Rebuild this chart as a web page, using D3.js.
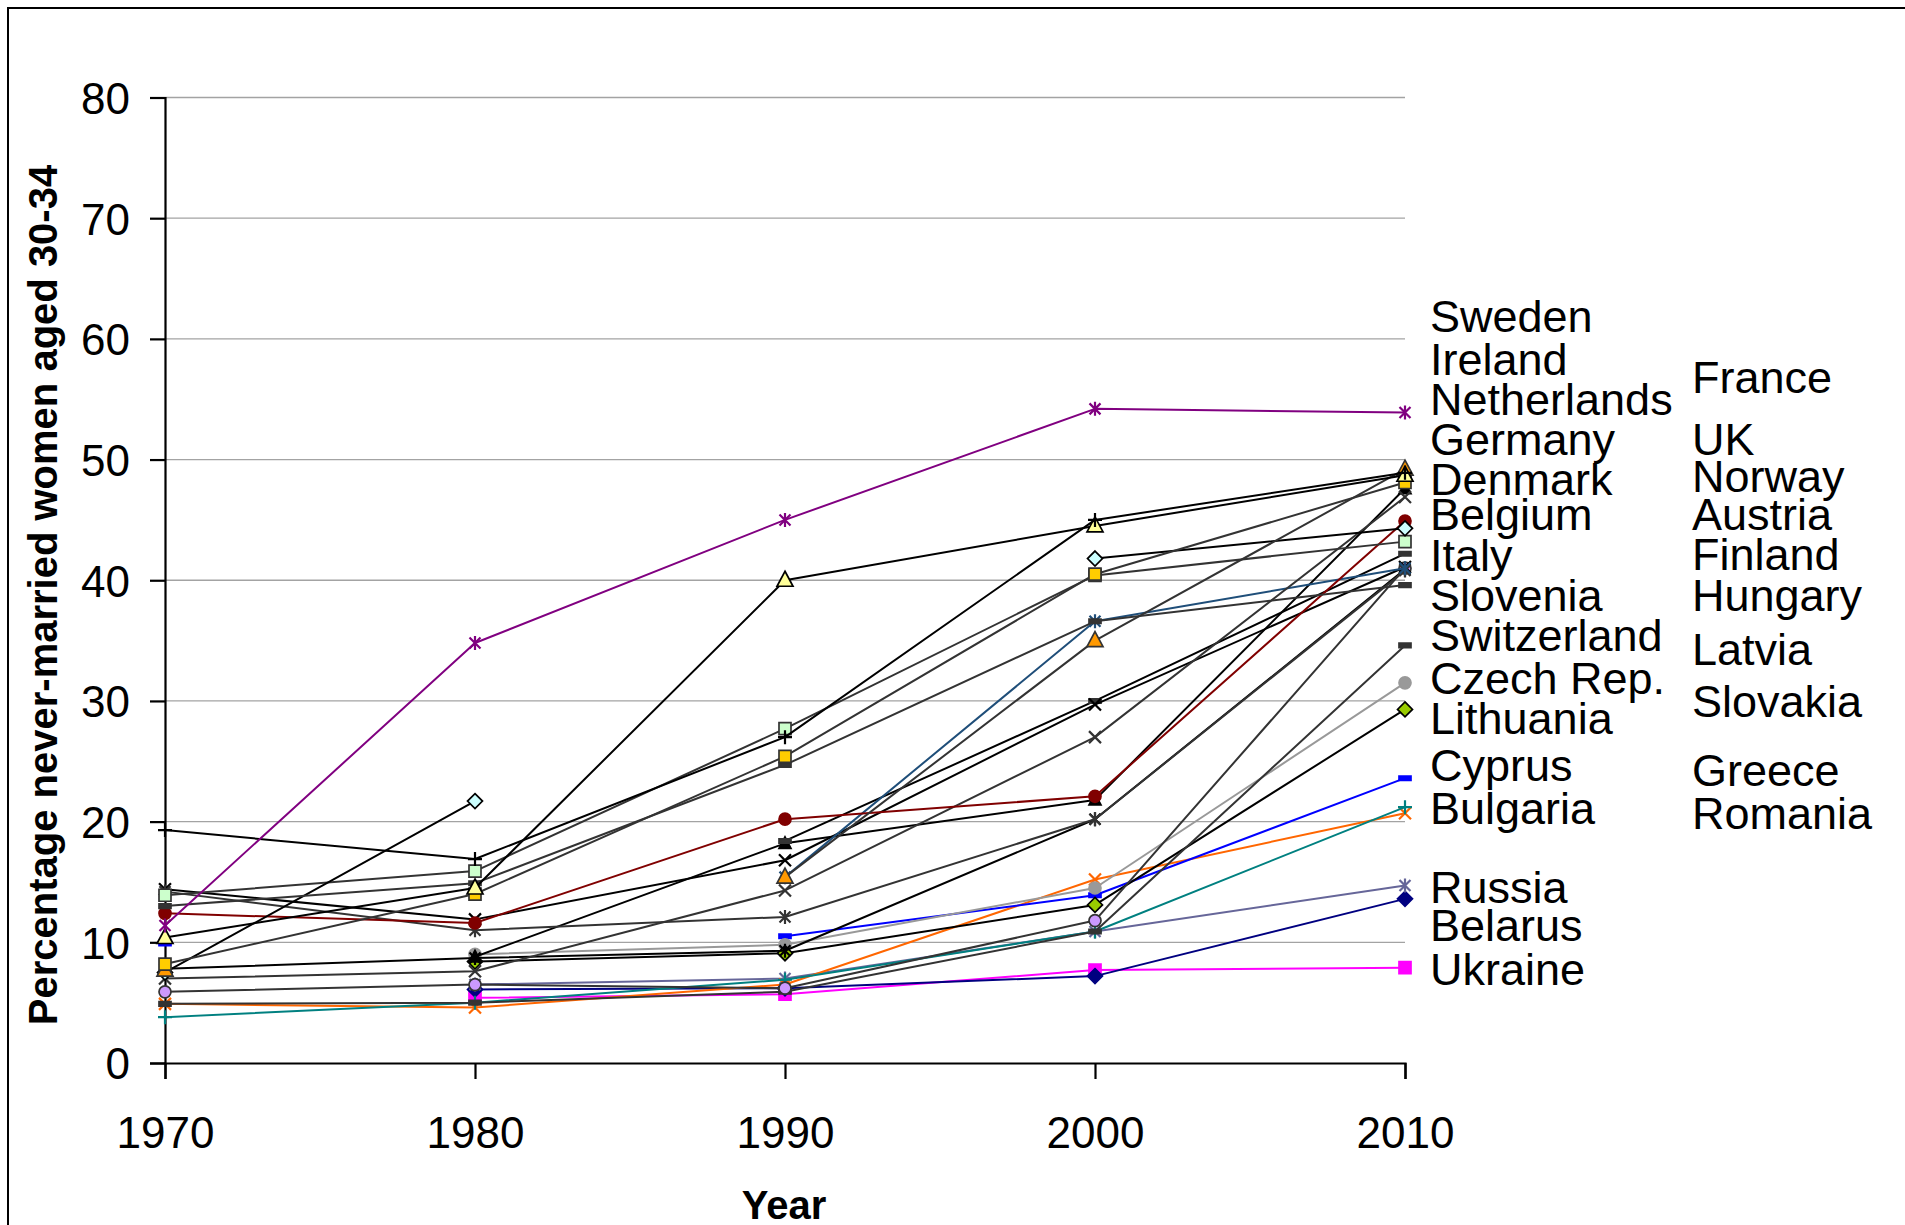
<!DOCTYPE html>
<html><head><meta charset="utf-8">
<script src="https://cdn.jsdelivr.net/npm/d3@7"></script>
<style>
html,body{margin:0;padding:0;background:#fff;overflow:hidden}
svg{display:block}
text{font-family:"Liberation Sans",Arial,Helvetica,sans-serif}
</style></head><body>
<svg id="chart" width="1905" height="1225"></svg>
<script>
// ---------- data ----------
const years = [1970, 1980, 1990, 2000, 2010];
const yTicks = [0, 10, 20, 30, 40, 50, 60, 70, 80];

const ukraine     = [null, 5.4, 5.7, 7.7, 7.9];
const belarus     = [null, 6.1, 6.2, 7.2, 13.6];
const russia      = [null, 6.5, 7.0, 10.9, 14.7];
const romania     = [4.9, 4.6, 6.5, 15.2, 20.7];
const bulgaria    = [3.8, 5.0, 6.9, 10.9, 21.2];
const greece      = [9.9, null, 10.5, 13.9, 23.6];
const cyprus      = [null, 9.0, 9.8, 14.5, 31.5];
const lithuania   = [null, 8.4, 9.1, 13.1, 29.3];
const slovakia    = [4.9, 5.0, 5.9, 10.9, 34.6];
const czech       = [7.8, 8.7, 9.3, 20.2, 40.9];
const slovenia    = [5.9, 6.5, 6.2, 11.8, 41.0];
const latvia      = [null, 8.8, 18.2, 21.8, 47.6];
const hungary     = [null, null, 18.4, 30.0, 42.2];
const switzerland = [14.4, 11.9, 16.8, 29.7, 41.1];
const italy       = [14.2, 11.0, 12.1, 20.2, 40.8];
const finland     = [null, null, 15.4, 36.6, 41.0];
const austria     = [7.0, 7.6, 14.3, 27.0, 46.9];
const belgium     = [12.4, 11.6, 20.2, 22.1, 44.9];
const norway      = [13.9, 15.9, 27.7, 40.4, 43.2];
const denmark     = [7.5, 21.7, null, 41.8, 44.3];
const uk          = [13.0, 14.9, 24.7, 36.6, 39.6];
const germany     = [7.7, null, 15.4, 35.0, 49.2];
const france      = [8.2, 14.0, 25.4, 40.5, 48.1];
const netherlands = [10.4, 14.5, 40.0, 44.5, 48.7];
const ireland     = [19.3, 16.9, 27.0, 45.0, 48.9];
const sweden      = [11.4, 34.8, 45.0, 54.2, 53.9];

// label names and the level (in %) where each sits
const labelsLeft  = ["Sweden","Ireland","Netherlands","Germany","Denmark","Belgium","Italy","Slovenia","Switzerland","Czech Rep.","Lithuania","Cyprus","Bulgaria","Russia","Belarus","Ukraine"];
const labelsLeftAt  = [61.9, 58.3, 55.0, 51.7, 48.4, 45.5, 42.1, 38.8, 35.5, 31.9, 28.6, 24.7, 21.1, 14.6, 11.4, 7.8];
const labelsRight = ["France","UK","Norway","Austria","Finland","Hungary","Latvia","Slovakia","Greece","Romania"];
const labelsRightAt = [56.8, 51.7, 48.6, 45.5, 42.2, 38.8, 34.3, 30.0, 24.3, 20.7];

// ---------- styles ----------
const series = [
  {name:"Ukraine",     v:ukraine,     line:"#FF00FF", mk:"square",   fill:"#FF00FF", ms:"#FF00FF"},
  {name:"Belarus",     v:belarus,     line:"#000080", mk:"diamond",  fill:"#000080", ms:"#000080"},
  {name:"Russia",      v:russia,      line:"#666699", mk:"asterisk", fill:"none",    ms:"#666699"},
  {name:"Romania",     v:romania,     line:"#FF6600", mk:"x",        fill:"none",    ms:"#FF6600"},
  {name:"Bulgaria",    v:bulgaria,    line:"#008080", mk:"plus",     fill:"none",    ms:"#008080"},
  {name:"Greece",      v:greece,      line:"#0000FF", mk:"dash",     fill:"#0000FF", ms:"#0000FF"},
  {name:"Cyprus",      v:cyprus,      line:"#999999", mk:"circle",   fill:"#999999", ms:"#999999"},
  {name:"Lithuania",   v:lithuania,   line:"#000000", mk:"diamond",  fill:"#99CC00", ms:"#000000"},
  {name:"Slovakia",    v:slovakia,    line:"#333333", mk:"dash",     fill:"#333333", ms:"#333333"},
  {name:"Czech Rep.",  v:czech,       line:"#000000", mk:"asterisk", fill:"none",    ms:"#000000"},
  {name:"Slovenia",    v:slovenia,    line:"#333333", mk:"circle",   fill:"#CC99FF", ms:"#333333"},
  {name:"Latvia",      v:latvia,      line:"#000000", mk:"triangle", fill:"#000000", ms:"#000000", small:true},
  {name:"Hungary",     v:hungary,     line:"#000000", mk:"dash",     fill:"#333333", ms:"#333333"},
  {name:"Switzerland", v:switzerland, line:"#000000", mk:"x",        fill:"none",    ms:"#000000"},
  {name:"Italy",       v:italy,       line:"#333333", mk:"asterisk", fill:"none",    ms:"#333333"},
  {name:"Finland",     v:finland,     line:"#1F4E79", mk:"asterisk", fill:"none",    ms:"#1F4E79"},
  {name:"Austria",     v:austria,     line:"#333333", mk:"x",        fill:"none",    ms:"#333333"},
  {name:"Belgium",     v:belgium,     line:"#800000", mk:"circle",   fill:"#800000", ms:"#800000"},
  {name:"Norway",      v:norway,      line:"#333333", mk:"square",   fill:"#CCFFCC", ms:"#333333"},
  {name:"Denmark",     v:denmark,     line:"#000000", mk:"diamond",  fill:"#CCFFFF", ms:"#000000"},
  {name:"UK",          v:uk,          line:"#333333", mk:"dash",     fill:"#333333", ms:"#333333"},
  {name:"Germany",     v:germany,     line:"#333333", mk:"triangle", fill:"#FF9900", ms:"#333333"},
  {name:"France",      v:france,      line:"#333333", mk:"square",   fill:"#FFCC00", ms:"#333333"},
  {name:"Netherlands", v:netherlands, line:"#000000", mk:"triangle", fill:"#FFFF99", ms:"#000000"},
  {name:"Ireland",     v:ireland,     line:"#000000", mk:"plus",     fill:"none",    ms:"#000000"},
  {name:"Sweden",      v:sweden,      line:"#800080", mk:"asterisk", fill:"none",    ms:"#800080"}
];

// ---------- drawing ----------
const svg = d3.select("#chart");
const FONT = '"Liberation Sans",Arial,Helvetica,sans-serif';

// outer frame
svg.append("rect").attr("x",8).attr("y",8).attr("width",1920).attr("height",1240)
  .attr("fill","none").attr("stroke","#000").attr("stroke-width",2);

const x = d3.scaleLinear().domain([1970, 2010]).range([165, 1405]);
const y = d3.scaleLinear().domain([0, 80]).range([1063, 97.5]);

// gridlines
svg.append("g").selectAll("line").data(yTicks.filter(t => t > 0)).join("line")
  .attr("x1", x(1970)).attr("x2", x(2010))
  .attr("y1", d => y(d)).attr("y2", d => y(d))
  .attr("stroke", "#a3a3a3").attr("stroke-width", 1.3);

// y axis
const yAxis = d3.axisLeft(y).tickValues(yTicks).tickSize(15).tickPadding(20).tickFormat(d3.format("d"));
const gy = svg.append("g").attr("transform", `translate(${x(1970)},0)`).call(yAxis);
gy.select(".domain").attr("stroke","#000").attr("stroke-width",2.2);
gy.selectAll(".tick line").attr("stroke","#000").attr("stroke-width",2.2);
gy.selectAll(".tick text").attr("font-family",FONT).attr("font-size",44).attr("fill","#000").attr("dy","0.36em");

// x axis
const xAxis = d3.axisBottom(x).tickValues(years).tickSize(16).tickPadding(38).tickFormat(d3.format("d"));
const gx = svg.append("g").attr("transform", `translate(0,${y(0)})`).call(xAxis);
gx.select(".domain").attr("stroke","#000").attr("stroke-width",2.2);
gx.selectAll(".tick line").attr("stroke","#000").attr("stroke-width",2.2);
gx.selectAll(".tick text").attr("font-family",FONT).attr("font-size",44).attr("fill","#000").attr("dy","0.71em");

// axis titles
svg.append("text").attr("transform","translate(57,595) rotate(-90)")
  .attr("text-anchor","middle").attr("font-family",FONT).attr("font-weight","bold")
  .attr("font-size",40).text("Percentage never-married women aged 30-34");
svg.append("text").attr("x",784).attr("y",1219)
  .attr("text-anchor","middle").attr("font-family",FONT).attr("font-weight","bold")
  .attr("font-size",40).text("Year");

// marker paths
function markerPath(type, small) {
  switch (type) {
    case "square":   return "M-6,-6H6V6H-6Z";
    case "diamond":  return "M0,-7.5L7.5,0L0,7.5L-7.5,0Z";
    case "triangle": return small ? "M0,-6.5L6,5L-6,5Z" : "M0,-9L8,6L-8,6Z";
    case "circle":   return "M6,0A6,6 0 1,1 -6,0A6,6 0 1,1 6,0Z";
    case "x":        return "M-6,-6L6,6M-6,6L6,-6";
    case "plus":     return "M-7,0H7M0,-7V7";
    case "asterisk": return "M-5.5,-5.5L5.5,5.5M-5.5,5.5L5.5,-5.5M0,-7V7";
    case "dash":     return "M-6,-2.2H6V2.2H-6Z";
  }
}

const lineGen = d3.line()
  .defined(d => d.v !== null)
  .x(d => x(d.year)).y(d => y(d.v));

const plot = svg.append("g");
series.forEach(s => {
  const pts = years.map((yr, i) => ({year: yr, v: s.v[i]}));
  const g = plot.append("g");
  g.append("path").datum(pts).attr("d", lineGen)
    .attr("fill","none").attr("stroke", s.line).attr("stroke-width", 2)
    .attr("stroke-linejoin","round");
  const open = (s.mk === "x" || s.mk === "plus" || s.mk === "asterisk");
  g.selectAll("path.mk").data(pts.filter(d => d.v !== null)).join("path")
    .attr("class","mk")
    .attr("transform", d => `translate(${x(d.year)},${y(d.v)})`)
    .attr("d", markerPath(s.mk, s.small))
    .attr("fill", open ? "none" : s.fill)
    .attr("stroke", s.ms)
    .attr("stroke-width", open ? 2.2 : 1.7);
});

// country labels
svg.append("g").selectAll("text").data(labelsLeft).join("text")
  .attr("x", 1430).attr("y", (d, i) => y(labelsLeftAt[i]) + 16)
  .attr("font-family",FONT).attr("font-size",45).attr("fill","#000").text(d => d);
svg.append("g").selectAll("text").data(labelsRight).join("text")
  .attr("x", 1692).attr("y", (d, i) => y(labelsRightAt[i]) + 16)
  .attr("font-family",FONT).attr("font-size",45).attr("fill","#000").text(d => d);
</script>
</body></html>
